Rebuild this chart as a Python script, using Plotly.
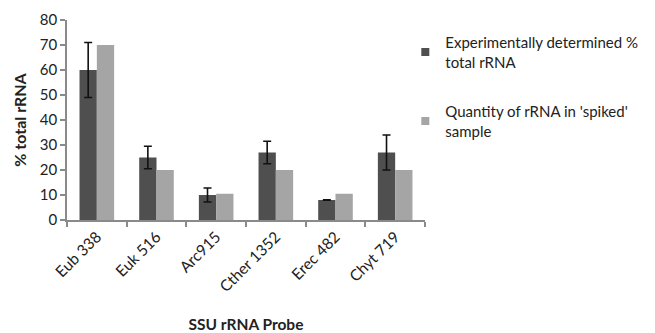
import plotly.graph_objects as go

probes = ["Eub 338", "Euk 516", "Arc915", "Cther 1352", "Erec 482", "Chyt 719"]
experimental = [60, 25, 10, 27, 8, 27]
experimental_err = [11, 4.5, 2.8, 4.5, 0.1, 7]
spiked = [70, 20, 10.5, 20, 10.5, 20]
names = ["Experimentally determined %<br>total rRNA", "Quantity of rRNA in 'spiked'<br>sample"]
colors = ["#4f4f4f", "#a5a5a5"]

font_family = "Lato, Open Sans, sans-serif"

fig = go.Figure()
fig.add_trace(go.Bar(
    x=probes, y=experimental, name=names[0], showlegend=False,
    marker=dict(color=colors[0], line=dict(width=0)),
    error_y=dict(type="data", array=experimental_err, color="#111111", thickness=1.6, width=4),
))
fig.add_trace(go.Bar(
    x=probes, y=spiked, name=names[1], showlegend=False,
    marker=dict(color=colors[1], line=dict(width=0)),
))
# legend entries with small square symbols
for i, (n, c) in enumerate(zip(names, colors)):
    fig.add_trace(go.Scatter(
        x=[None], y=[None], mode="markers", name=n,
        marker=dict(symbol="square", size=8, color=c),
        legendgroup="g%d" % i,
    ))

fig.update_layout(
    width=655, height=333,
    margin=dict(l=67, r=226, t=20, b=113),
    paper_bgcolor="white", plot_bgcolor="white",
    barmode="group", bargap=0.42, bargroupgap=0,
    font=dict(family=font_family, size=15, color="#222222"),
    legend=dict(x=0.945, xanchor="left", y=0.97, yanchor="top",
                font=dict(size=15, color="#222222"),
                tracegroupgap=27, itemwidth=30, bgcolor="rgba(0,0,0,0)"),
    showlegend=True,
)
fig.update_xaxes(
    automargin=False,
    showline=True, linecolor="#8a8a8a", linewidth=1.5,
    ticks="outside", tickson="boundaries", ticklen=5, tickcolor="#8a8a8a", tickwidth=1.5,
    tickangle=-45, tickfont=dict(size=15.5, color="#222222"),
    title=dict(text="<b>SSU rRNA Probe</b>", font=dict(size=15.5, color="#222222"), standoff=28),
    showgrid=False,
)
fig.update_yaxes(
    automargin=False,
    range=[0, 80], dtick=10,
    showline=True, linecolor="#8a8a8a", linewidth=1.5,
    ticks="outside", ticklen=5, tickcolor="#8a8a8a", tickwidth=1.5,
    tickfont=dict(size=15, color="#222222"),
    title=dict(text="<b>% total rRNA</b>", font=dict(size=16, color="#222222"), standoff=9),
    showgrid=False, zeroline=False,
)

fig.write_html("out.html", config={"displayModeBar": False},
               post_script="document.body.style.margin='0';")
